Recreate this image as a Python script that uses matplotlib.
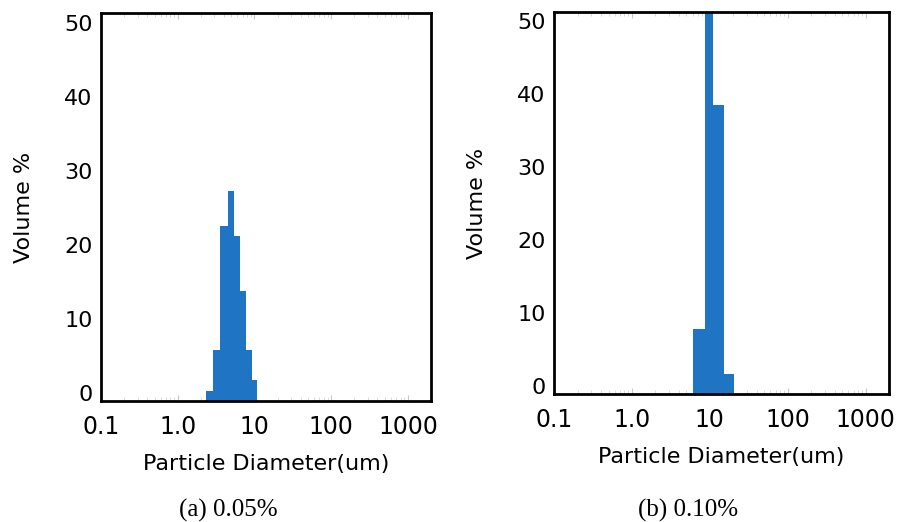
import matplotlib
matplotlib.use('Agg')
import matplotlib.pyplot as plt
import numpy as np

# particle size bins (um) and volume %
edges_a = [2.31, 2.85, 3.51, 4.46, 5.34, 6.39, 7.64, 9.42, 10.9]
vol_a = [0.3, 5.8, 22.5, 27.3, 21.2, 13.8, 5.8, 1.8]

edges_b = [6.15, 8.74, 11.0, 15.2, 20.4]
vol_b = [7.8, 56.0, 38.5, 1.6]

xticks = [0.1, 1, 10, 100, 1000]
xticklabels = ['0.1', '1.0', '10', '100', '1000']
yticks = [0, 10, 20, 30, 40, 50]
captions = ['(a) 0.05%', '(b) 0.10%']

BLUE = '#1f74c4'
Y0 = -1.1

fig = plt.figure(figsize=(8.98, 5.22), dpi=100)
ax1 = fig.add_axes([0.1125, 0.2318, 0.3675, 0.7433])
ax2 = fig.add_axes([0.617, 0.2452, 0.373, 0.732])


def draw(ax, edges, vals):
    e = np.array(edges)
    v = np.array(vals)
    ax.bar(e[:-1], v - Y0, width=np.diff(e), bottom=Y0, align='edge',
           color=BLUE, edgecolor='none', zorder=2)
    ax.set_axisbelow(True)
    ax.set_xscale('log')
    ax.set_xlim(0.1, 2000)
    ax.set_ylim(Y0, 51.3)
    ax.set_xticks(xticks)
    ax.set_xticklabels(xticklabels)
    ax.set_yticks(yticks)
    ax.tick_params(axis='y', length=0, pad=6, labelsize=16)
    ax.tick_params(axis='x', which='major', direction='in', length=4,
                   color='#c8c8c8', pad=10, labelsize=17, top=True)
    ax.tick_params(axis='x', which='minor', direction='in', length=3,
                   color='#d4d4d4', top=True)
    for s in ax.spines.values():
        s.set_linewidth(2)
        s.set_color('black')
        s.set_zorder(3)
    ax.set_ylabel('Volume %', fontsize=16, labelpad=22)
    ax.set_xlabel('Particle Diameter(um)', fontsize=16, labelpad=11)


draw(ax1, edges_a, vol_a)
draw(ax2, edges_b, vol_b)

fig.text(228 / 898, 1 - 510 / 522, captions[0], ha='center', va='center',
         fontsize=18, family='Liberation Serif')
fig.text(688 / 898, 1 - 510 / 522, captions[1], ha='center', va='center',
         fontsize=18, family='Liberation Serif')

plt.savefig('out.png', dpi=100)
